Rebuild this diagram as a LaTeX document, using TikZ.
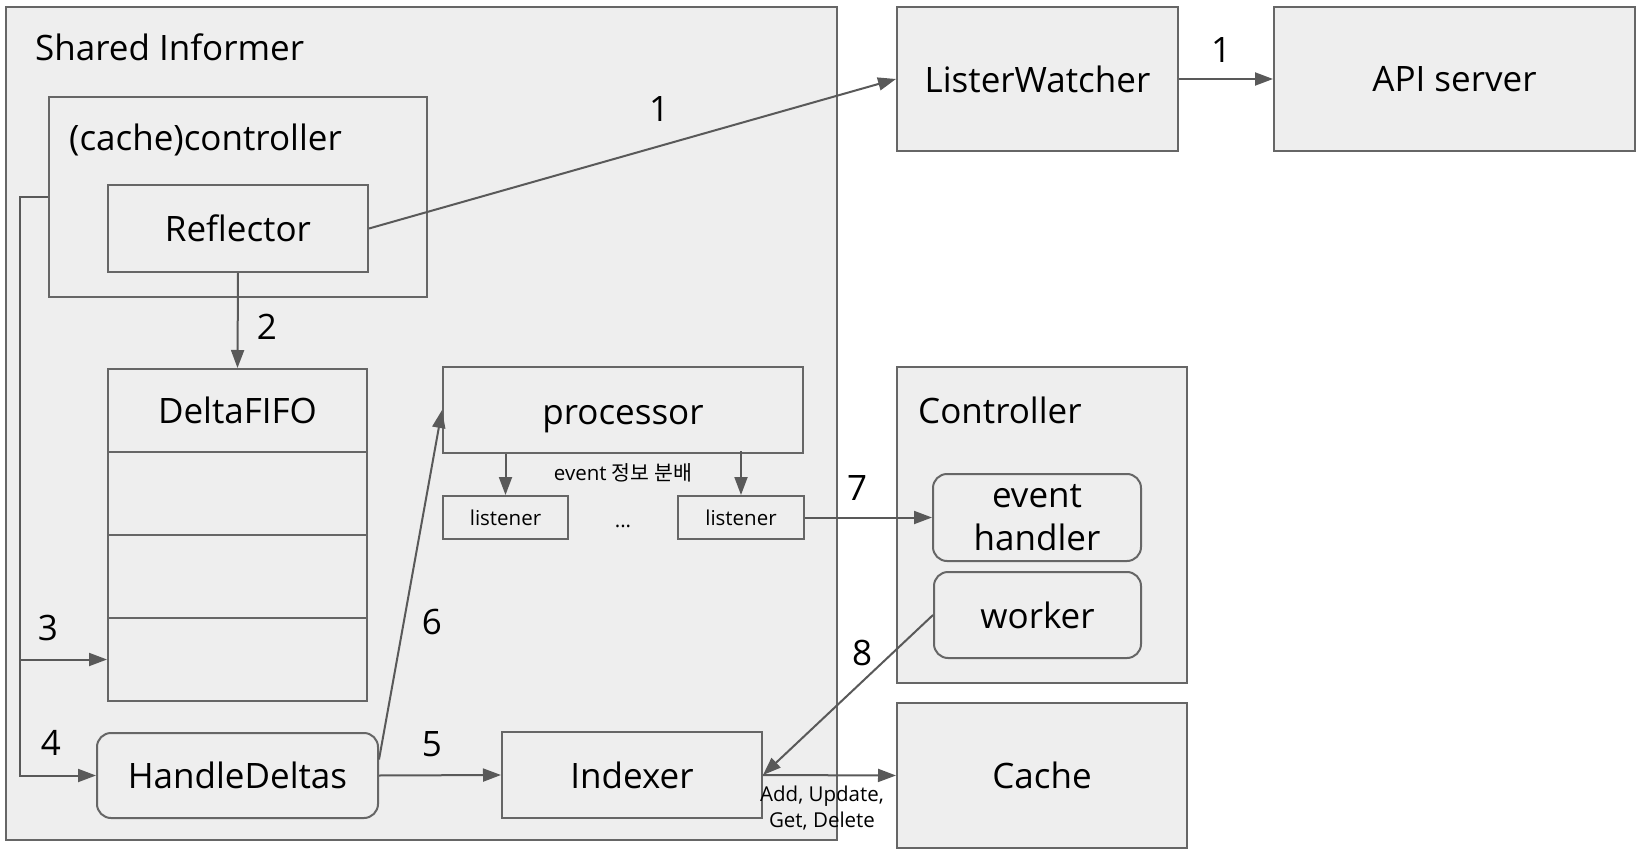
\documentclass[tikz,border=0pt]{standalone}
\usepackage{fontspec}
\setmainfont{Open Sans}
\newfontfamily\krfont{Noto Sans CJK KR}
\usetikzlibrary{arrows.meta,calc}
\definecolor{boxfill}{HTML}{EEEEEE}
\definecolor{bordergray}{HTML}{666666}
\definecolor{arrowgray}{HTML}{595959}
\begin{document}
\begin{tikzpicture}[x=1pt,y=-1pt,
  box/.style={draw=bordergray, fill=boxfill, line width=2pt, inner sep=0pt,
    text depth=0pt, font=\fontsize{35}{43}\selectfont, align=center},
  rbox/.style={box, rounded corners=14pt},
  small/.style={inner sep=0pt, font=\fontsize{20.5}{26}\selectfont, align=center},
  num/.style={inner sep=0pt, font=\fontsize{35}{43}\selectfont},
  title/.style={inner sep=0pt, anchor=base west, font=\fontsize{35}{43}\selectfont},
  arr/.style={draw=arrowgray, line width=2pt, -{Triangle[length=18pt,width=13pt]}},
  plain/.style={draw=arrowgray, line width=2pt}
]
\useasboundingbox (0,0) rectangle (1647,861);

% containers
\node[box, minimum width=831, minimum height=833] (si) at (421.5,423.5) {};
\node[title] (sit) at (35,61) {Shared Informer};
\node[box, minimum width=378, minimum height=200] (ctrl) at (238,197) {};
\node[title] (ctrlt) at (69,151) {(cache)controller};
\node[box, minimum width=260, minimum height=87] (refl) at (238,228.5) {Reflector};

% DeltaFIFO
\node[box, minimum width=259, minimum height=83] (fifo0) at (237.5,410.5) {DeltaFIFO};
\node[box, minimum width=259, minimum height=83] (fifo1) at (237.5,493.5) {};
\node[box, minimum width=259, minimum height=83] (fifo2) at (237.5,576.5) {};
\node[box, minimum width=259, minimum height=83] (fifo3) at (237.5,659.5) {};

\node[rbox, minimum width=281, minimum height=85] (hd) at (237.5,775.5) {HandleDeltas};
\node[box, minimum width=260, minimum height=86] (idx) at (632,775) {Indexer};
\node[box, minimum width=360, minimum height=86] (proc) at (623,410) {};
\node[inner sep=0pt, text depth=0pt, font=\fontsize{35}{43}\selectfont] (proct) at (623,415) {processor};
\node[box, small, minimum width=125, minimum height=43] (l1) at (505.5,517.5) {listener};
\node[box, small, minimum width=126, minimum height=43] (l2) at (741,517.5) {listener};
\node[small] (evt) at (623,473) {event {\krfont 정보 분배}};
\node[small, anchor=base] (dots) at (623,527) {...};

% right side
\node[box, minimum width=281, minimum height=144] (lw) at (1037.5,79) {ListerWatcher};
\node[box, minimum width=361, minimum height=144] (api) at (1454.5,79) {API server};
\node[box, minimum width=290, minimum height=316] (ctl) at (1042,525) {};
\node[title] (ctlt) at (918,423) {Controller};
\node[rbox, minimum width=208, minimum height=87] (eh) at (1037,517.5) {event\\handler};
\node[rbox, minimum width=207, minimum height=86] (wk) at (1037.5,615) {worker};
\node[box, minimum width=290, minimum height=145] (cache) at (1042,775.5) {Cache};

% connectors
\coordinate (rail) at (20,197);
\draw[arr] (refl.east) -- (lw.west);
\draw[arr] (lw.east) -- (api.west);
\draw[arr] (refl.south) -- (fifo0.north);
\draw[arr] (ctrl.west) -- (rail) |- (hd.west);
\draw[arr] (rail |- fifo3.west) -- (fifo3.west);
\draw[arr] (hd.east) -- (idx.west);
\draw[arr] ([yshift=16pt]hd.east) -- (proc.west);
\draw[arr] (l1.north |- proc.south) -- (l1.north);
\draw[arr] ([yshift=3pt]l2.north |- proc.south) -- (l2.north);
\draw[arr] (l2.east) -- (eh.west);
\draw[arr] (wk.west) -- (idx.east);
\draw[arr] (idx.east) -- (cache.west);

% labels
\node[num] (n1) at (659,109) {1};
\node[num] (n1b) at (1221,50) {1};
\node[num] (n2) at (267,327) {2};
\node[num] (n3) at (48,628) {3};
\node[num] (n4) at (51,743) {4};
\node[num] (n5) at (432,744) {5};
\node[num] (n6) at (432,622) {6};
\node[num] (n7) at (857,488) {7};
\node[num] (n8) at (862,653) {8};
\node[small] (ops) at (822,808) {Add, Update,\\Get, Delete};
\end{tikzpicture}
\end{document}
